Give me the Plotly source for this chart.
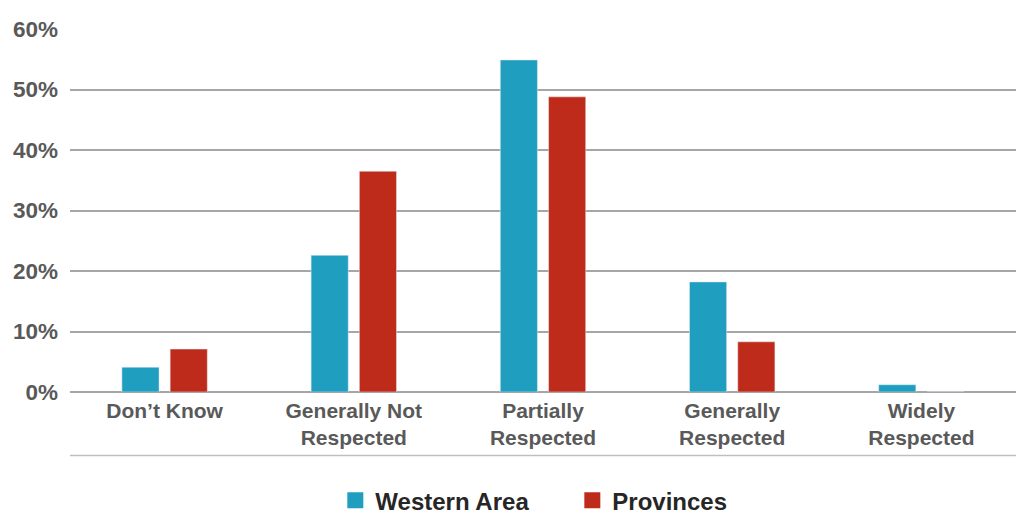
import plotly.graph_objects as go

categories = ["Don’t Know", "Generally Not<br>Respected", "Partially<br>Respected",
              "Generally<br>Respected", "Widely<br>Respected"]
western_area = [4.1, 22.6, 54.9, 18.2, 1.2]
provinces = [7.1, 36.5, 48.8, 8.3, 0.0]
y_ticks = [0, 10, 20, 30, 40, 50, 60]
y_tick_labels = [f"{v}%" for v in y_ticks]

BLUE = "#209EBF"
RED = "#BF2B1A"
FONT = "Liberation Sans"

fig = go.Figure()
fig.add_trace(go.Bar(x=categories, y=western_area, name="Western Area",
                     marker_color=BLUE, showlegend=False))
fig.add_trace(go.Bar(x=categories, y=provinces, name="Provinces",
                     marker_color=RED, showlegend=False))
# legend proxies with larger square symbols
fig.add_trace(go.Scatter(x=[None], y=[None], mode="markers", name="Western Area",
                         marker=dict(symbol="square", size=17, color=BLUE)))
fig.add_trace(go.Scatter(x=[None], y=[None], mode="markers", name="Provinces",
                         marker=dict(symbol="square", size=17, color=RED)))

fig.update_layout(
    width=1016, height=514,
    margin=dict(l=70, r=0, t=29, b=122),
    plot_bgcolor="white", paper_bgcolor="white",
    barmode="group", bargap=0.49, bargroupgap=0.23,
    font=dict(family=FONT, color="#595959"),
    legend=dict(orientation="h", x=0.531, xanchor="center",
                yref="container", y=0.026, yanchor="middle",
                font=dict(family=FONT, size=24, color="#262626", weight="bold"),
                entrywidth=192, itemsizing="trace"),
    shapes=[dict(type="line", xref="paper", yref="paper", x0=0, x1=1,
                 y0=-0.175, y1=-0.175, line=dict(color="#BFBFBF", width=1.5))],
)
fig.update_xaxes(tickfont=dict(family=FONT, size=21, color="#595959", weight="bold"),
                 showline=False, showgrid=False, ticks="", fixedrange=True,
                 ticklabelstandoff=4)
fig.update_yaxes(range=[0, 60.02], tickvals=y_ticks, ticktext=y_tick_labels,
                 tickfont=dict(family=FONT, size=22.5, color="#595959", weight="bold"),
                 showgrid=True, gridcolor="#A6A6A6", gridwidth=1.5,
                 zeroline=True, zerolinecolor="#A6A6A6", zerolinewidth=1.5,
                 ticks="", ticklabelstandoff=11)

fig.write_html("out.html")
